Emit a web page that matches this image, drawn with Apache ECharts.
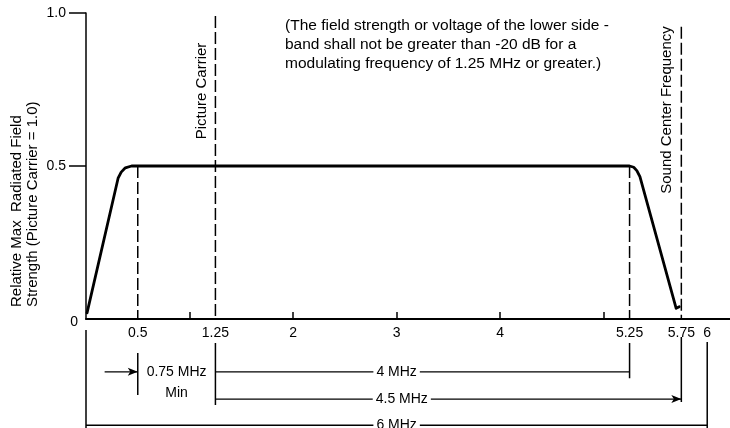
<!DOCTYPE html>
<html><head><meta charset="utf-8">
<script src="https://cdn.jsdelivr.net/npm/echarts@6/dist/echarts.min.js"></script>
<style>html,body{margin:0;padding:0;background:#fff}#c{width:730px;height:428px}</style>
</head><body><div id="c"></div>
<script>
// ---- data ----
const xTickLabels = [0.5, 1.25, 2, 3, 4, 5.25, 5.75, 6];
const xMinorTicks = [1, 2, 3, 4, 5];
const yTickLabels = [0.5, 1.0];
const curveX = [0.01, 0.31, 0.34, 0.38, 0.44, 0.5, 5.25, 5.29, 5.32, 5.35, 5.70, 5.73];
const curveY = [0.02, 0.46, 0.48, 0.494, 0.5, 0.5, 0.5, 0.496, 0.485, 0.465, 0.035, 0.04];
const markerX = [0.5, 1.25, 5.25, 5.75];
const markerTop = [0.5, 0.99, 0.5, 0.955];
const markerNames = ['', 'Picture Carrier', '', 'Sound Center Frequency'];
const markerLabelY = [0, 0.745, 0, 0.683];
const extX = [0, 0.5, 1.25, 5.25, 5.75, 6];
const extFrom = [0.4, 1.25, 0.88, 0.88, 0.66, 0.84];
const extTo = [4.0, 2.79, 3.16, 2.17, 3.05, 4.0];
const spanNames = ['0.75 MHz\nMin', '4 MHz', '4.5 MHz', '6 MHz'];
const spanFrom = [0.18, 1.25, 1.25, 0];
const spanTo = [0.5, 5.25, 5.75, 6];
const spanRow = [1.94, 1.94, 2.94, 3.9];
const spanLabelX = [0.875, 3.0, 3.05, 3.0];
const spanArrow = [true, false, true, false];
const noteLines = [
  '(The field strength or voltage of the lower side -',
  'band shall not be greater than -20 dB for a',
  'modulating frequency of 1.25 MHz or greater.)'
];
const yTitle = ['Relative Max  Radiated Field', 'Strength (Picture Carrier = 1.0)'];

// ---- chart ----
const FONT = '"Liberation Sans", Arial, sans-serif';
const INK = '#000';
const chart = echarts.init(document.getElementById('c'), null, {renderer: 'canvas'});
const series = [];

series.push({
  type: 'line', xAxisIndex: 0, yAxisIndex: 0, silent: true, z: 4,
  data: curveX.map((x, i) => [x, curveY[i]]),
  symbol: 'none', lineStyle: {color: INK, width: 2.8, cap: 'round', join: 'round'}
});
markerX.forEach((x, i) => {
  series.push({
    type: 'line', xAxisIndex: 0, yAxisIndex: 0, silent: true,
    data: [[x, markerTop[i]], [x, 0]], symbol: 'none',
    lineStyle: {color: INK, width: 1.5, type: [12, 4]}
  });
});
series.push({
  type: 'scatter', xAxisIndex: 0, yAxisIndex: 0, silent: true, symbolSize: 0,
  itemStyle: {opacity: 1},
  data: markerX.map((x, i) => ({value: [x, markerLabelY[i]], name: markerNames[i]})).filter(d => d.name),
  label: {show: true, formatter: '{b}', rotate: 90, position: 'inside', offset: [0, -14], opacity: 1,
    align: 'center', verticalAlign: 'middle', color: INK, fontFamily: FONT, fontSize: 15}
});
series.push({
  type: 'scatter', xAxisIndex: 0, yAxisIndex: 0, silent: true, symbolSize: 0,
  itemStyle: {opacity: 1},
  data: [{value: [0, 0], name: '0'}],
  label: {show: true, formatter: '{b}', position: 'left', distance: 8, offset: [0, 3], opacity: 1,
    color: INK, fontFamily: FONT, fontSize: 14}
});
extX.forEach((x, i) => {
  series.push({
    type: 'line', xAxisIndex: 1, yAxisIndex: 1, silent: true,
    data: [[x, extFrom[i]], [x, extTo[i]]], symbol: 'none',
    lineStyle: {color: INK, width: 1.5}
  });
});
spanNames.forEach((n, i) => {
  series.push({
    type: 'line', xAxisIndex: 1, yAxisIndex: 1, silent: true,
    symbol: 'none', showSymbol: true, itemStyle: {color: INK},
    data: [[spanFrom[i], spanRow[i]],
      {value: [spanTo[i], spanRow[i]], symbol: spanArrow[i] ? 'arrow' : 'none', symbolSize: [6, 10], symbolRotate: -90}],
    lineStyle: {color: INK, width: 1.4}
  });
});
series.push({
  type: 'scatter', xAxisIndex: 1, yAxisIndex: 1, silent: true, symbolSize: 0, z: 5,
  itemStyle: {opacity: 1},
  data: spanNames.map((n, i) => ({value: [spanLabelX[i], spanRow[i]], name: n})),
  label: {show: true, formatter: '{b}', position: 'inside', align: 'center', verticalAlign: 'top', opacity: 1,
    offset: [0, -10.5], lineHeight: 21, color: INK, fontFamily: FONT, fontSize: 14,
    backgroundColor: '#fff', padding: [0, 3]}
});

chart.setOption({
  animation: false,
  grid: [
    {left: 86, right: 0, top: 13, height: 306},
    {left: 86, right: 0, top: 319, bottom: 0}
  ],
  xAxis: [
    {type: 'value', gridIndex: 0, min: 0, max: 6.22,
      axisLine: {show: true, lineStyle: {color: INK, width: 2}},
      axisTick: {show: true, inside: true, length: 7, customValues: xMinorTicks, lineStyle: {color: INK, width: 1.5}},
      axisLabel: {show: true, customValues: xTickLabels, margin: 7, color: INK, fontFamily: FONT, fontSize: 14,
        formatter: v => String(v)},
      splitLine: {show: false}},
    {type: 'value', gridIndex: 1, min: 0, max: 6.22, show: false}
  ],
  yAxis: [
    {type: 'value', gridIndex: 0, min: 0, max: 1,
      axisLine: {show: true, lineStyle: {color: INK, width: 1.5}},
      axisTick: {show: true, inside: false, length: 17, customValues: yTickLabels, lineStyle: {color: INK, width: 1.5}},
      axisLabel: {show: true, customValues: yTickLabels, margin: 20, color: INK, fontFamily: FONT, fontSize: 14,
        formatter: v => v.toFixed(1)},
      splitLine: {show: false}},
    {type: 'value', gridIndex: 1, min: 0, max: 4, inverse: true, show: false}
  ],
  graphic: [
    {type: 'text', x: 285, y: 16, silent: true,
      style: {text: noteLines.join('\n'), font: '15.5px ' + FONT, lineHeight: 19, fill: INK,
        align: 'left', verticalAlign: 'top', textAlign: 'left', textVerticalAlign: 'top'}},
    {type: 'text', x: 25, y: 307, rotation: Math.PI / 2, silent: true,
      style: {text: yTitle.join('\n'), font: '15px ' + FONT, lineHeight: 16, fill: INK,
        align: 'left', verticalAlign: 'middle', textAlign: 'left', textVerticalAlign: 'middle'}}
  ],
  series: series
});
</script></body></html>
